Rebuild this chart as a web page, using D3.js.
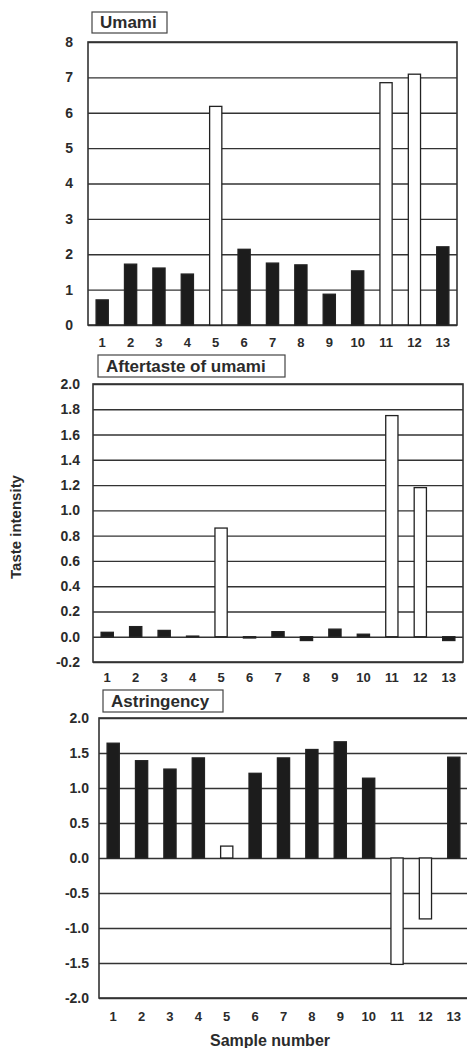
<!DOCTYPE html>
<html>
<head>
<meta charset="utf-8">
<script src="https://cdn.jsdelivr.net/npm/d3@7"></script>
<style>
  body { margin: 0; background: #fff; }
  text { font-family: "Liberation Sans", Arial, sans-serif; font-weight: bold; fill: #2b2b2b; }
</style>
</head>
<body>
<div id="main"></div>
<script>
var samples = ["1","2","3","4","5","6","7","8","9","10","11","12","13"];
var openSamples = ["5","11","12"];//white bars
var umami = [0.71, 1.72, 1.61, 1.44, 6.18, 2.14, 1.75, 1.70, 0.87, 1.53, 6.85, 7.09, 2.21];
var aftertaste = [0.035, 0.08, 0.05, 0.005, 0.86, -0.01, 0.04, -0.03, 0.06, 0.02, 1.75, 1.18, -0.03];
var astringency = [1.64, 1.39, 1.27, 1.43, 0.17, 1.21, 1.43, 1.55, 1.66, 1.14, -1.52, -0.87, 1.44];
var umamiTicks = [0, 1, 2, 3, 4, 5, 6, 7, 8];
var aftertasteTicks = [-0.2, 0, 0.2, 0.4, 0.6, 0.8, 1.0, 1.2, 1.4, 1.6, 1.8, 2.0];
var astringencyTicks = [-2, -1.5, -1, -0.5, 0, 0.5, 1, 1.5, 2];

var locale = d3.formatLocale({decimal: ".", thousands: ",", grouping: [3], currency: ["", ""], minus: "-"});//plain hyphen minus

var panels = [
  {title: "Umami", values: umami, ticks: umamiTicks, fmt: locale.format("d"),
   left: 88, right: 457, top: 42, bottom: 325, labelGap: 15, xLabelY: 348, box: [92, 12, 75, 21]},
  {title: "Aftertaste of umami", values: aftertaste, ticks: aftertasteTicks, fmt: locale.format(".1f"),
   left: 93, right: 463, top: 384, bottom: 662, labelGap: 13, xLabelY: 683, box: [98, 355, 187, 22]},
  {title: "Astringency", values: astringency, ticks: astringencyTicks, fmt: locale.format(".1f"),
   left: 99, right: 468, top: 718, bottom: 998, labelGap: 10, xLabelY: 1022, box: [103, 690, 120, 22]}
];

var svg = d3.select("#main").append("svg")
  .attr("width", 467)
  .attr("height", 1048);

panels.forEach(function(p) {
  var x = d3.scaleBand()
    .domain(samples)
    .range([p.left, p.right])
    .paddingInner(0.57)
    .paddingOuter(0.285);
  var y = d3.scaleLinear()
    .domain(d3.extent(p.ticks))
    .range([p.bottom, p.top]);
  var g = svg.append("g");

  // gridlines
  g.append("g")
    .attr("transform", "translate(" + p.left + ",0)")
    .call(d3.axisLeft(y).tickValues(p.ticks).tickSize(-(p.right - p.left)).tickFormat(""))
    .call(function(s) { s.select(".domain").remove(); })
    .selectAll("line").attr("stroke", "#333").attr("stroke-width", 1.4);

  // frame
  g.append("rect")
    .attr("x", p.left).attr("y", p.top)
    .attr("width", p.right - p.left).attr("height", p.bottom - p.top)
    .attr("fill", "none").attr("stroke", "#333").attr("stroke-width", 1.6);

  // bars
  g.selectAll(".bar").data(p.values).enter().append("rect")
    .attr("class", "bar")
    .attr("x", function(d, i) { return x(samples[i]); })
    .attr("width", x.bandwidth())
    .attr("y", function(d) { return y(Math.max(0, d)); })
    .attr("height", function(d) { return Math.abs(y(d) - y(0)); })
    .attr("fill", function(d, i) { return openSamples.indexOf(samples[i]) >= 0 ? "#fff" : "#1c1c1c"; })
    .attr("stroke", "#222")
    .attr("stroke-width", 1.3);

  // y tick labels
  g.append("g")
    .attr("transform", "translate(" + (p.left - p.labelGap) + ",0)")
    .call(d3.axisLeft(y).tickValues(p.ticks).tickSize(0).tickPadding(0).tickFormat(p.fmt))
    .call(function(s) { s.select(".domain").remove(); })
    .selectAll("text").style("font-size", "14px").attr("fill", "#2b2b2b");

  // x tick labels
  g.append("g")
    .attr("transform", "translate(0," + (p.xLabelY - 10) + ")")
    .call(d3.axisBottom(x).tickSize(0).tickPadding(0))
    .call(function(s) { s.select(".domain").remove(); })
    .selectAll("text").style("font-size", "13px").attr("fill", "#2b2b2b");

  // title box
  g.append("rect")
    .attr("x", p.box[0]).attr("y", p.box[1])
    .attr("width", p.box[2]).attr("height", p.box[3])
    .attr("fill", "#fff").attr("stroke", "#444").attr("stroke-width", 1.2);
  g.append("text")
    .attr("x", p.box[0] + 8)
    .attr("y", p.box[1] + p.box[3] - 5)
    .style("font-size", "17px")
    .text(p.title);
});

svg.append("text")
  .attr("transform", "translate(21, 527) rotate(-90)")
  .style("text-anchor", "middle")
  .style("font-size", "15px")
  .text("Taste intensity");//y label

svg.append("text")
  .attr("x", 270)
  .attr("y", 1046)
  .style("text-anchor", "middle")
  .style("font-size", "16px")
  .text("Sample number");//x label
</script>
</body>
</html>
